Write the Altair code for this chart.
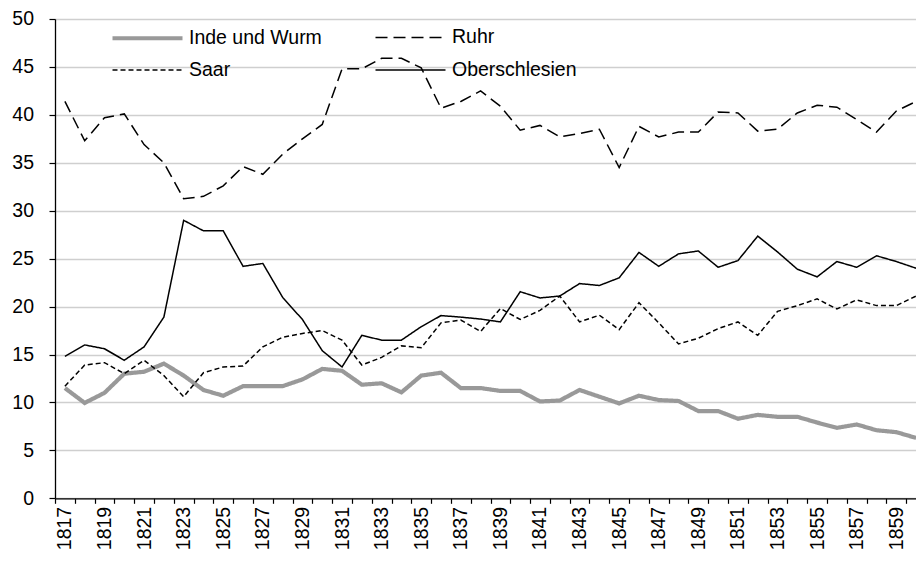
import altair as alt
import pandas as pd

years = list(range(1817, 1861))

inde_und_wurm = [11.5, 9.95, 11.0, 13.0, 13.2, 14.05, 12.8, 11.3, 10.7, 11.7,
                 11.7, 11.7, 12.4, 13.5, 13.3, 11.85, 12.0, 11.05, 12.8, 13.1,
                 11.5, 11.5, 11.2, 11.2, 10.1, 10.2, 11.3, 10.6, 9.9, 10.7,
                 10.25, 10.15, 9.1, 9.1, 8.3, 8.7, 8.5, 8.5, 7.9, 7.35,
                 7.7, 7.1, 6.9, 6.3]

ruhr = [41.4, 37.3, 39.7, 40.1, 36.9, 35.0, 31.25, 31.5, 32.6, 34.6,
        33.8, 35.9, 37.5, 39.0, 44.8, 44.8, 45.9, 45.9, 44.9, 40.7,
        41.4, 42.5, 40.9, 38.4, 38.9, 37.7, 38.05, 38.5, 34.5, 38.8,
        37.7, 38.2, 38.2, 40.3, 40.2, 38.3, 38.5, 40.2, 41.0, 40.8,
        39.5, 38.2, 40.4, 41.4]

saar = [11.7, 13.9, 14.15, 13.0, 14.4, 12.8, 10.6, 13.1, 13.7, 13.8,
        15.8, 16.8, 17.2, 17.5, 16.5, 13.9, 14.7, 15.9, 15.7, 18.3,
        18.6, 17.4, 19.8, 18.65, 19.6, 21.1, 18.4, 19.1, 17.6, 20.4,
        18.3, 16.1, 16.7, 17.7, 18.4, 17.0, 19.5, 20.1, 20.8, 19.75,
        20.7, 20.1, 20.1, 21.1]

oberschlesien = [14.8, 16.0, 15.6, 14.4, 15.8, 18.9, 29.0, 27.9, 27.9, 24.2,
                 24.5, 20.96, 18.65, 15.4, 13.7, 17.0, 16.5, 16.5, 17.9, 19.06,
                 18.9, 18.7, 18.4, 21.55, 20.9, 21.1, 22.4, 22.2, 23.0, 25.65,
                 24.2, 25.5, 25.8, 24.1, 24.8, 27.35, 25.7, 23.9, 23.1, 24.7,
                 24.1, 25.3, 24.7, 24.0]

series_names = ["Inde und Wurm", "Ruhr", "Saar", "Oberschlesien"]
series_values = [inde_und_wurm, ruhr, saar, oberschlesien]
# legend fills column by column: this order gives rows (Inde, Ruhr) / (Saar, Oberschlesien)
legend_order = ["Inde und Wurm", "Saar", "Ruhr", "Oberschlesien"]
series_colors = {"Inde und Wurm": "#999999", "Ruhr": "#000000",
                 "Saar": "#000000", "Oberschlesien": "#000000"}
series_dash = {"Inde und Wurm": [1, 0], "Ruhr": [12, 6],
               "Saar": [5, 3], "Oberschlesien": [1, 0]}
series_width = {"Inde und Wurm": 4.2, "Ruhr": 1.5,
                "Saar": 1.5, "Oberschlesien": 1.5}
y_ticks = list(range(0, 55, 5))

rows = []
for name, vals in zip(series_names, series_values):
    for yr, v in zip(years, vals):
        rows.append({"Jahr": yr, "Wert": v, "Revier": name})
df = pd.DataFrame(rows)

W = 871
H = 479.3
band = W / len(years)
FONT = "Liberation Sans"
FS = 19.5
FSX = 19.5


def legend():
    # long horizontal line symbol (70 px) with a compact entry height
    return alt.Legend(title=None, orient="none", legendX=55, legendY=-1,
                      columns=2, columnPadding=50, rowPadding=3.5,
                      symbolType="M-2,0H2", symbolSize=1225, symbolOffset=17.5,
                      labelFont=FONT, labelFontSize=FS, labelColor="#000000",
                      labelOffset=21.5, padding=0, labelLimit=400)


chart = alt.Chart(df).mark_line(strokeJoin="miter", strokeCap="butt").encode(
    x=alt.X("Jahr:Q",
            scale=alt.Scale(domain=[years[0] - 0.5, years[-1] + 0.5], nice=False, zero=False),
            axis=alt.Axis(values=years, format="d", title=None, labelAngle=-90,
                          labelExpr="datum.value % 2 == 1 ? datum.label : ''",
                          tickOffset=-band / 2, labelOffset=band / 2,
                          tickSize=5, labelPadding=3, tickColor="#000000",
                          domainColor="#000000", domainWidth=1.3, tickWidth=1.2,
                          grid=False, labelFont=FONT, labelFontSize=FSX,
                          labelColor="#000000", labelBound=False, labelOverlap=False)),
    y=alt.Y("Wert:Q",
            scale=alt.Scale(domain=[0, 50], nice=False),
            axis=alt.Axis(values=y_ticks, title=None, tickSize=6, labelPadding=15.5,
                          tickColor="#000000", domainColor="#000000", domainWidth=1.3,
                          tickWidth=1.2, gridColor="#cfcfcf", gridWidth=1.5,
                          labelFont=FONT, labelFontSize=FS, labelColor="#000000")),
    color=alt.Color("Revier:N",
                    scale=alt.Scale(domain=legend_order,
                                    range=[series_colors[s] for s in legend_order]),
                    legend=legend()),
    strokeDash=alt.StrokeDash("Revier:N",
                              scale=alt.Scale(domain=legend_order,
                                              range=[series_dash[s] for s in legend_order]),
                              legend=legend()),
    strokeWidth=alt.StrokeWidth("Revier:N",
                                scale=alt.Scale(type="ordinal", domain=legend_order,
                                                range=[series_width[s] for s in legend_order]),
                                legend=legend()),
    order=alt.Order("Jahr:Q"),
).properties(
    width=W, height=H,
    autosize=alt.AutoSizeParams(type="none"),
    padding={"left": 47, "top": 11, "right": -10, "bottom": 52},
).configure_view(stroke=None).configure(background="#ffffff")

chart.save("out.html", embed_options={"renderer": "svg", "actions": False})
